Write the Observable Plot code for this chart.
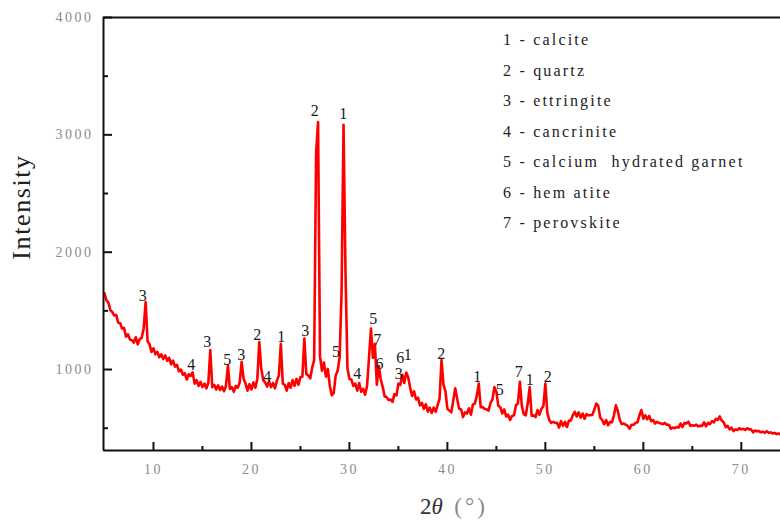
<!DOCTYPE html>
<html>
<head>
<meta charset="utf-8">
<script src="https://cdn.jsdelivr.net/npm/d3@7"></script>
<script src="https://cdn.jsdelivr.net/npm/@observablehq/plot@0.6"></script>
<style>
html, body { margin: 0; padding: 0; background: #fff; }
#wrap { position: relative; width: 780px; height: 522px; overflow: hidden; font-family: "Liberation Serif", serif; }
#wrap svg { position: absolute; left: 0; top: 0; }
#ylabel { position: absolute; left: 22px; top: 207px; transform: translate(-50%, -50%) rotate(-90deg); font-size: 26px; letter-spacing: 1.6px; color: #222; white-space: nowrap; }
#xlabel { position: absolute; left: 420px; top: 494px; font-size: 23px; color: #333; white-space: nowrap; line-height: 26px; }
#xlabel .par { color: #8a8a8a; letter-spacing: 3px; }
#legend { position: absolute; left: 503px; top: 25px; font-size: 16px; letter-spacing: 2.2px; color: #222; line-height: 30.5px; white-space: pre; }
g[aria-label="x-axis tick label"] text, g[aria-label="y-axis tick label"] text { letter-spacing: 2.5px; }
</style>
</head>
<body>
<div id="wrap">
  <div id="ylabel">Intensity</div>
  <div id="xlabel">2<i>θ</i>&nbsp;&nbsp;<span class="par">(°)</span></div>
  <div id="legend"></div>
</div>
<script>
// 2θ sampling positions (degrees)
const twoTheta = [
  5.0,5.2,5.4,5.6,5.8,6.0,6.2,6.4,6.6,6.8,
  7.0,7.2,7.4,7.6,7.8,8.0,8.2,8.4,8.6,8.8,
  9.0,9.2,9.4,9.6,9.8,10.0,10.2,10.4,10.6,10.8,
  11.0,11.2,11.4,11.6,11.8,12.0,12.2,12.4,12.6,12.8,
  13.0,13.2,13.4,13.6,13.8,14.0,14.2,14.4,14.6,14.8,
  15.0,15.2,15.4,15.6,15.8,16.0,16.2,16.4,16.6,16.8,
  17.0,17.2,17.4,17.6,17.8,18.0,18.2,18.4,18.6,18.8,
  19.0,19.2,19.4,19.6,19.8,20.0,20.2,20.4,20.6,20.8,
  21.0,21.2,21.4,21.6,21.8,22.0,22.2,22.4,22.6,22.8,
  23.0,23.2,23.4,23.6,23.8,24.0,24.2,24.4,24.6,24.8,
  25.0,25.2,25.4,25.6,25.8,26.0,26.2,26.4,26.6,26.8,
  27.0,27.2,27.4,27.6,27.8,28.0,28.2,28.4,28.6,28.8,
  29.0,29.2,29.4,29.6,29.8,30.0,30.2,30.4,30.6,30.8,
  31.0,31.2,31.4,31.6,31.8,32.0,32.2,32.4,32.6,32.8,
  33.0,33.2,33.4,33.6,33.8,34.0,34.2,34.4,34.6,34.8,
  35.0,35.2,35.4,35.6,35.8,36.0,36.2,36.4,36.6,36.8,
  37.0,37.2,37.4,37.6,37.8,38.0,38.2,38.4,38.6,38.8,
  39.0,39.2,39.4,39.6,39.8,40.0,40.2,40.4,40.6,40.8,
  41.0,41.2,41.4,41.6,41.8,42.0,42.2,42.4,42.6,42.8,
  43.0,43.2,43.4,43.6,43.8,44.0,44.2,44.4,44.6,44.8,
  45.0,45.2,45.4,45.6,45.8,46.0,46.2,46.4,46.6,46.8,
  47.0,47.2,47.4,47.6,47.8,48.0,48.2,48.4,48.6,48.8,
  49.0,49.2,49.4,49.6,49.8,50.0,50.2,50.4,50.6,50.8,
  51.0,51.2,51.4,51.6,51.8,52.0,52.2,52.4,52.6,52.8,
  53.0,53.2,53.4,53.6,53.8,54.0,54.2,54.4,54.6,54.8,
  55.0,55.2,55.4,55.6,55.8,56.0,56.2,56.4,56.6,56.8,
  57.0,57.2,57.4,57.6,57.8,58.0,58.2,58.4,58.6,58.8,
  59.0,59.2,59.4,59.6,59.8,60.0,60.2,60.4,60.6,60.8,
  61.0,61.2,61.4,61.6,61.8,62.0,62.2,62.4,62.6,62.8,
  63.0,63.2,63.4,63.6,63.8,64.0,64.2,64.4,64.6,64.8,
  65.0,65.2,65.4,65.6,65.8,66.0,66.2,66.4,66.6,66.8,
  67.0,67.2,67.4,67.6,67.8,68.0,68.2,68.4,68.6,68.8,
  69.0,69.2,69.4,69.6,69.8,70.0,70.2,70.4,70.6,70.8,
  71.0,71.2,71.4,71.6,71.8,72.0,72.2,72.4,72.6,72.8,
  73.0,73.2,73.4,73.6,73.8,74.0
];

// Intensity
const intensity = [
  1650,1590,1570,1505,1490,1460,1465,1400,1395,1350,
  1355,1280,1300,1255,1250,1230,1275,1215,1260,1270,
  1350,1575,1240,1215,1150,1180,1130,1150,1105,1130,
  1090,1120,1075,1100,1045,1075,1025,1040,985,1000,
  955,970,915,960,945,975,880,910,860,895,
  850,880,840,885,1165,850,870,830,865,825,
  855,815,860,1035,835,850,810,860,845,890,
  1065,920,880,820,875,830,890,845,920,1235,
  1010,910,890,855,900,850,885,840,905,950,
  1220,880,870,820,885,845,910,860,920,870,
  935,940,1265,960,950,925,1015,1080,2850,3110,
  1110,990,1060,940,1005,860,780,800,950,990,
  1100,1660,3085,1830,1010,920,915,860,880,820,
  885,810,835,785,860,1100,1350,1100,1220,870,
  1030,915,850,770,765,740,745,725,790,780,
  880,870,955,885,975,935,845,775,815,745,
  760,695,715,665,705,640,675,630,675,640,
  695,750,1080,870,815,665,650,635,735,840,
  750,665,660,595,635,625,670,615,700,710,
  775,880,680,680,665,660,650,715,745,850,
  810,690,680,625,660,600,615,570,605,610,
  695,710,895,690,620,610,710,850,605,610,
  595,655,615,665,690,880,630,570,545,555,
  545,545,505,560,520,555,510,565,565,610,
  640,600,635,590,625,580,620,610,610,615,
  660,710,690,590,570,535,570,525,555,550,
  610,695,645,570,535,540,530,520,495,530,
  530,545,550,610,655,580,610,575,605,560,
  570,540,555,545,540,535,545,530,530,495,
  505,500,510,505,540,510,545,540,555,520,
  525,520,530,515,520,520,550,515,545,535,
  560,550,580,570,600,565,550,510,520,490,
  505,475,490,485,500,490,495,485,500,490,
  490,465,480,475,475,465,470,460,475,460,
  465,455,460,450,455,445
];

// Phase labels on peaks
const peakLabel = ["3","4","3","5","3","2","4","1","3","2","5","1","4","5","7","6","3","6","1","2","1","5","7","1","2"];
const peakTheta = [8.91,13.85,15.48,17.53,18.96,20.59,21.61,23.04,25.49,26.47,28.63,29.37,30.8,32.43,32.84,33.07,35.04,35.2,35.95,39.37,43.04,45.35,47.29,48.41,50.25];
const peakIntensity = [1631,1043,1233,1085,1128,1298,934,1275,1332,3201,1153,3179,963,1432,1253,1048,963,1100,1128,1134,934,827,977,912,934];

// Legend entries
const legendItems = ["1 - calcite","2 - quartz","3 - ettringite","4 - cancrinite","5 - calcium  hydrated garnet","6 - hem atite","7 - perovskite"];

// Axes
const xDomain = [4.9, 74.0];
const yDomain = [310, 4000];
const xMajorTicks = [10, 20, 30, 40, 50, 60, 70];
const xMinorTicks = [15, 25, 35, 45, 55, 65];
const yMajorTicks = [1000, 2000, 3000, 4000];
const yMinorTicks = [500, 1500, 2500, 3500];

const pattern = twoTheta.map((t, i) => ({t, v: intensity[i]}));
const peaks = peakLabel.map((s, i) => ({s, t: peakTheta[i], v: peakIntensity[i]}));

const tickFill = "#8c8c8c";
const axisColor = "#111";

const chart = Plot.plot({
  width: 780,
  height: 522,
  marginTop: 17,
  marginBottom: 72,
  marginLeft: 103,
  marginRight: 0,
  x: {domain: xDomain},
  y: {domain: yDomain},
  style: {fontFamily: '"Liberation Serif", serif', background: "transparent", overflow: "visible"},
  marks: [
    Plot.line(pattern, {x: "t", y: "v", stroke: "#ff0000", strokeWidth: 2.6}),
    Plot.axisX(xMajorTicks, {tickSize: 0, tickPadding: 14, fontSize: 14, fill: tickFill, label: null, tickFormat: d => String(d)}),
    Plot.axisX(xMajorTicks, {tickSize: -8, strokeWidth: 2, stroke: axisColor, tickFormat: () => "", label: null}),
    Plot.axisX(xMinorTicks, {tickSize: -4, strokeWidth: 2, stroke: axisColor, tickFormat: () => "", label: null}),
    Plot.axisY(yMajorTicks, {tickSize: 0, tickPadding: 10, fontSize: 14, fill: tickFill, label: null, tickFormat: d => String(d)}),
    Plot.axisY(yMajorTicks, {tickSize: -9, strokeWidth: 2, stroke: axisColor, tickFormat: () => "", label: null}),
    Plot.axisY(yMinorTicks, {tickSize: -5, strokeWidth: 2, stroke: axisColor, tickFormat: () => "", label: null}),
    Plot.ruleY([yDomain[0]], {stroke: axisColor, strokeWidth: 2}),
    Plot.ruleY([yDomain[1]], {stroke: axisColor, strokeWidth: 2}),
    Plot.ruleX([xDomain[0]], {stroke: axisColor, strokeWidth: 2}),
    Plot.text(peaks, {x: "t", y: "v", text: "s", fontSize: 16, fill: "#1a1a1a"})
  ]
});

const wrap = document.getElementById("wrap");
wrap.insertBefore(chart, wrap.firstChild);

const legend = document.getElementById("legend");
legend.textContent = legendItems.join("\n");
</script>
</body>
</html>
